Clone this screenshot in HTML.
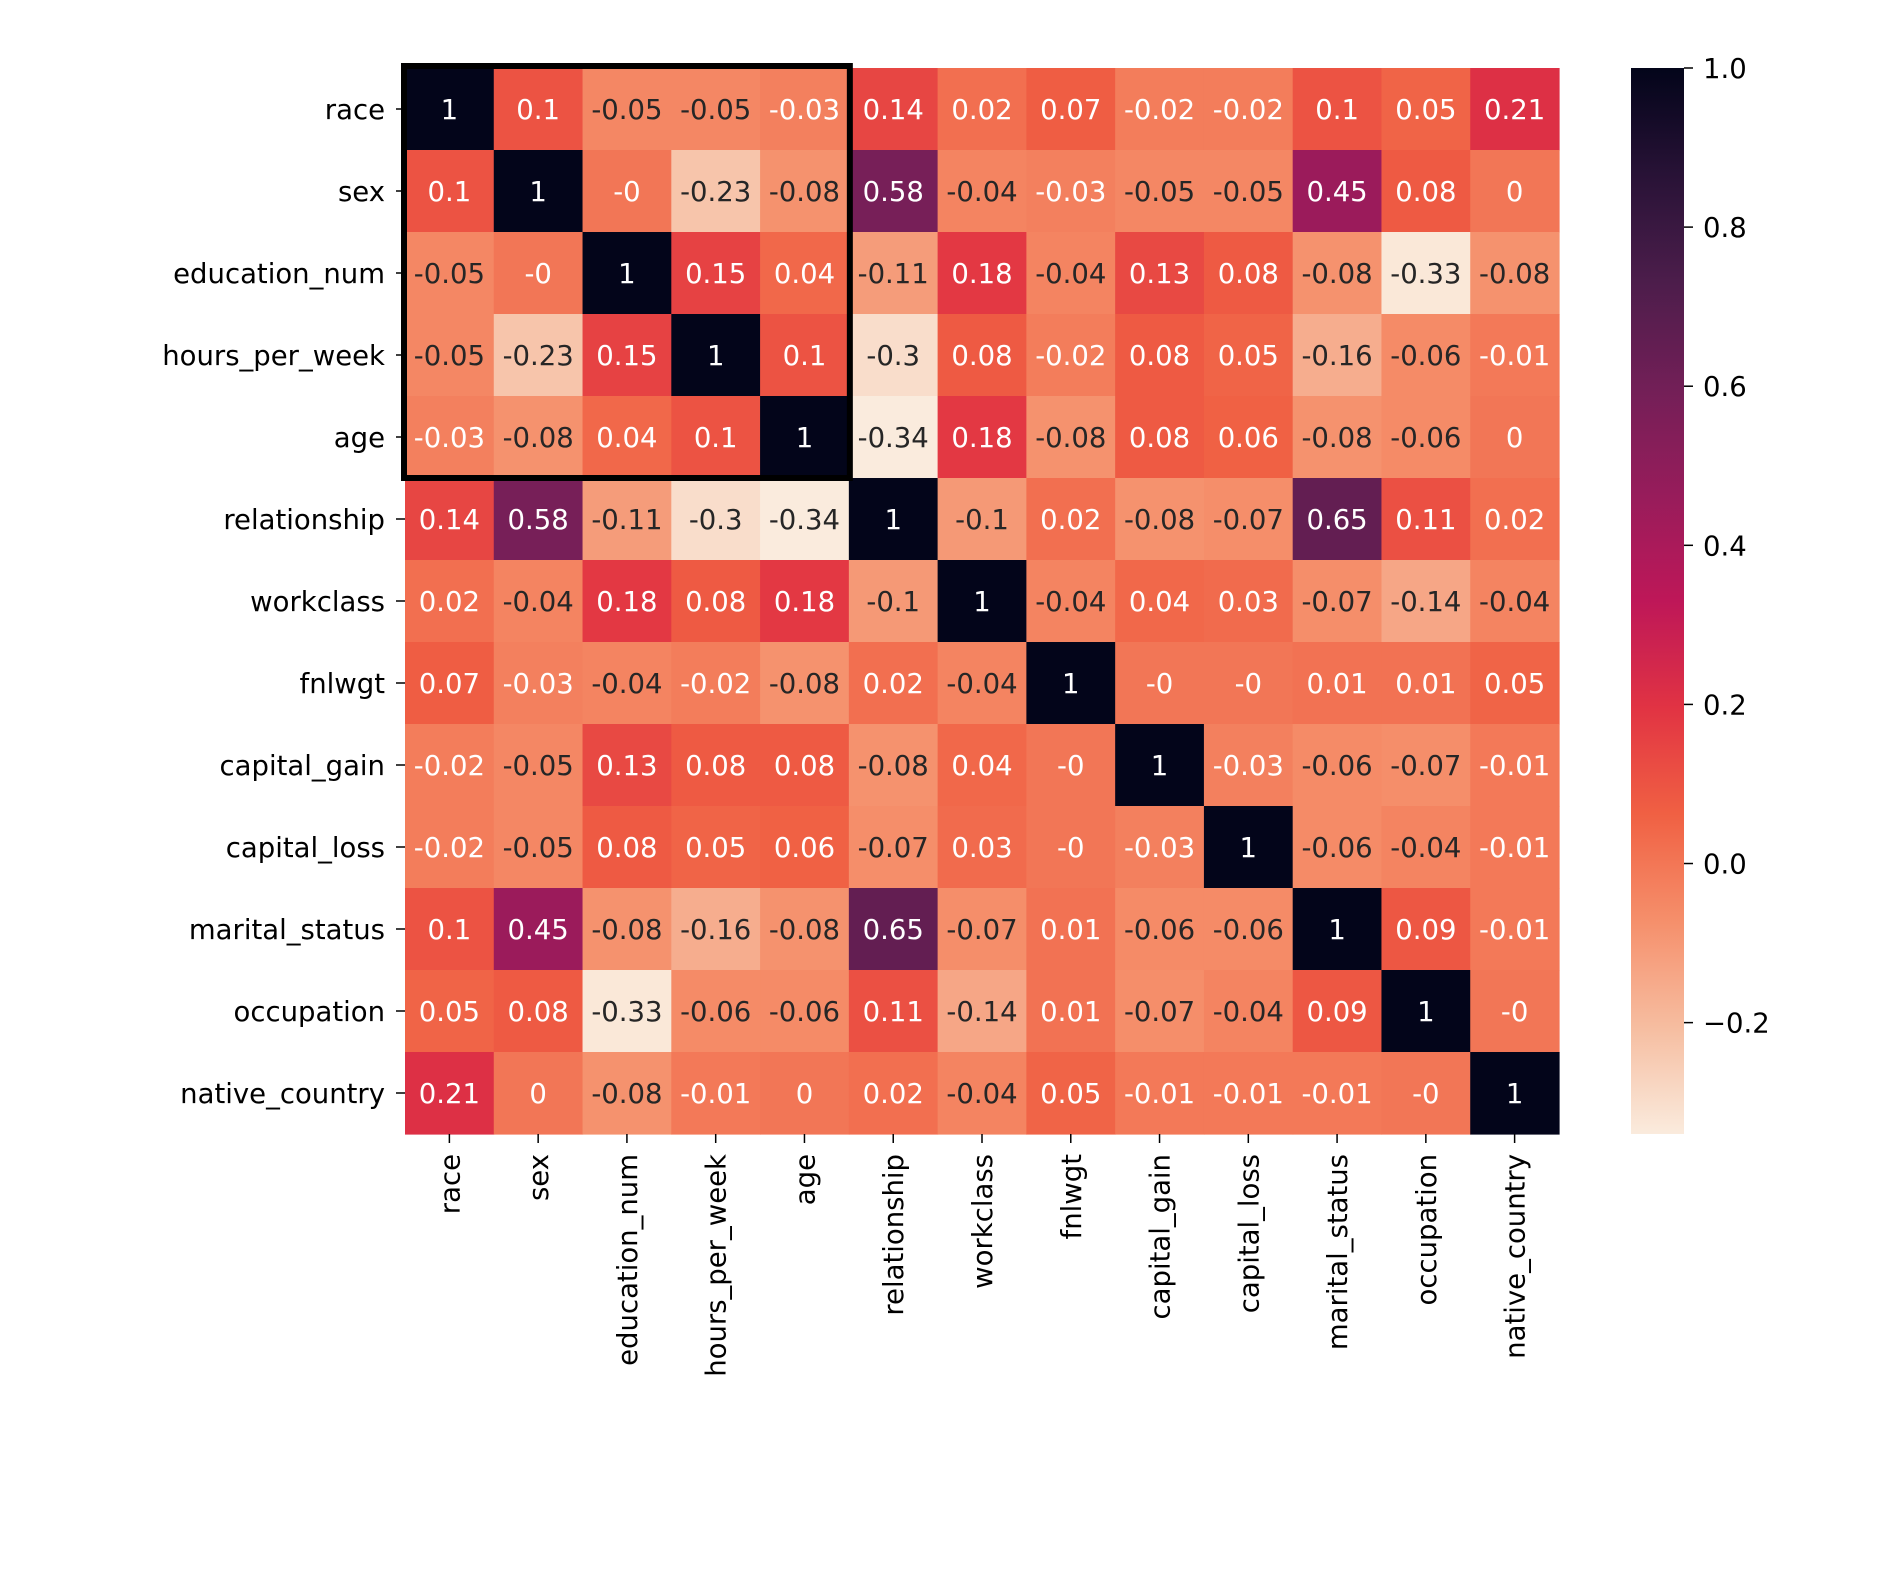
<!DOCTYPE html>
<html><head><meta charset="utf-8"><style>
html,body{margin:0;padding:0;background:#fff;}
svg{display:block;font-family:"DejaVu Sans","Liberation Sans",sans-serif;}
</style></head><body>
<svg id="chart" width="1892" height="1588" viewBox="0 0 1892 1588" xmlns="http://www.w3.org/2000/svg">
<rect width="1892" height="1588" fill="#fff"/>
<g id="cells"></g>
<g id="ylabels"></g>
<g id="xlabels"></g>
<g id="cbar"></g>
</svg>
<script>
const categories = ["race","sex","education_num","hours_per_week","age","relationship","workclass","fnlwgt","capital_gain","capital_loss","marital_status","occupation","native_country"];
const row0 = [1,0.1,-0.05,-0.05,-0.03,0.14,0.02,0.07,-0.02,-0.02,0.1,0.05,0.21];
const row1 = [0.1,1,-0,-0.23,-0.08,0.58,-0.04,-0.03,-0.05,-0.05,0.45,0.08,0];
const row2 = [-0.05,-0,1,0.15,0.04,-0.11,0.18,-0.04,0.13,0.08,-0.08,-0.33,-0.08];
const row3 = [-0.05,-0.23,0.15,1,0.1,-0.3,0.08,-0.02,0.08,0.05,-0.16,-0.06,-0.01];
const row4 = [-0.03,-0.08,0.04,0.1,1,-0.34,0.18,-0.08,0.08,0.06,-0.08,-0.06,0];
const row5 = [0.14,0.58,-0.11,-0.3,-0.34,1,-0.1,0.02,-0.08,-0.07,0.65,0.11,0.02];
const row6 = [0.02,-0.04,0.18,0.08,0.18,-0.1,1,-0.04,0.04,0.03,-0.07,-0.14,-0.04];
const row7 = [0.07,-0.03,-0.04,-0.02,-0.08,0.02,-0.04,1,-0,-0,0.01,0.01,0.05];
const row8 = [-0.02,-0.05,0.13,0.08,0.08,-0.08,0.04,-0,1,-0.03,-0.06,-0.07,-0.01];
const row9 = [-0.02,-0.05,0.08,0.05,0.06,-0.07,0.03,-0,-0.03,1,-0.06,-0.04,-0.01];
const row10 = [0.1,0.45,-0.08,-0.16,-0.08,0.65,-0.07,0.01,-0.06,-0.06,1,0.09,-0.01];
const row11 = [0.05,0.08,-0.33,-0.06,-0.06,0.11,-0.14,0.01,-0.07,-0.04,0.09,1,-0];
const row12 = [0.21,0,-0.08,-0.01,0,0.02,-0.04,0.05,-0.01,-0.01,-0.01,-0,1];
const matrix = [row0,row1,row2,row3,row4,row5,row6,row7,row8,row9,row10,row11,row12];
const cbarTicks = [1.0,0.8,0.6,0.4,0.2,0.0,-0.2];
const vmin = -0.34, vmax = 1.0;

const NS="http://www.w3.org/2000/svg";
const L=405, T=68, W=1154, H=1066;
const n=categories.length, cw=W/n, ch=H/n;
const xPos=i=>L+i*cw, yPos=i=>T+i*ch;
const stops=[[3,5,26],[40,18,54],[76,29,75],[114,31,87],[151,28,91],[190,23,88],[225,51,67],[240,96,67],[245,143,107],[246,189,160],[250,235,221]];
function color(v){
  let t=(vmax-v)/(vmax-vmin); t=Math.max(0,Math.min(1,t))*10;
  const i=Math.min(9,Math.floor(t)), f=t-i, a=stops[i], b=stops[i+1];
  return `rgb(${a.map((c,k)=>Math.round(c+(b[k]-c)*f)).join(",")})`;
}
function mk(tag,attrs,parent,text){const e=document.createElementNS(NS,tag);for(const k in attrs)e.setAttribute(k,attrs[k]);if(text!==undefined)e.textContent=text;parent.appendChild(e);return e;}
function fmt(v){return Object.is(v,-0)?"-0":String(v);}
const FS=27.5;

const cells=document.getElementById("cells");
matrix.forEach((row,r)=>row.forEach((v,c)=>{
  const rect=mk("rect",{x:xPos(c),y:yPos(r),width:cw+0.6,height:ch+0.6,fill:color(v)},cells);
  
  
  const dark = v>0.3 || v===1;
  const txt=mk("text",{x:xPos(c)+cw/2,y:yPos(r)+ch/2+10,"text-anchor":"middle","font-size":FS,fill:(v< -0.035 && !dark)?"#262626":"#ffffff"},cells,fmt(v));
  
  
}));
const box=mk("rect",{x:xPos(0)-1,y:yPos(0)-2,width:cw*5+2,height:ch*5+2,fill:"none",stroke:"#000","stroke-width":"6"},cells);



const yl=document.getElementById("ylabels"), xl=document.getElementById("xlabels");
categories.forEach((name,i)=>{
  const cy=yPos(i)+ch/2;
  mk("line",{x1:L-9,x2:L,y1:cy,y2:cy,stroke:"#000","stroke-width":"1.5"},yl);
  const t=mk("text",{x:L-20,y:cy+10,"text-anchor":"end","font-size":FS,fill:"#000"},yl,name);
  
  
  const cx=xPos(i)+cw/2;
  mk("line",{x1:cx,x2:cx,y1:T+H,y2:T+H+9,stroke:"#000","stroke-width":"1.5"},xl);
  const tx=mk("text",{x:0,y:0,"text-anchor":"end","font-size":FS,fill:"#000",transform:`translate(${cx+10},${T+H+20}) rotate(-90)`},xl,name);
  
  
});

const cb=document.getElementById("cbar");
const CL=1631, CW=53;
const defs=mk("defs",{},cb);
const g=mk("linearGradient",{id:"grad",x1:"0",y1:"0",x2:"0",y2:"1"},defs);
for(let k=0;k<=20;k++){const v=vmax-(vmax-vmin)*k/20;mk("stop",{offset:(k/20),"stop-color":color(v)},g);}
const cbr=mk("rect",{x:CL,y:T,width:CW,height:H,fill:"url(#grad)"},cb);


const cy=v=>T+(vmax-v)/(vmax-vmin)*H;
cbarTicks.forEach(v=>{
  mk("line",{x1:CL+CW,x2:CL+CW+9,y1:cy(v),y2:cy(v),stroke:"#000","stroke-width":"1.5"},cb);
  const t=mk("text",{x:CL+CW+19,y:cy(v)+10,"font-size":FS,fill:"#000"},cb,(v<0?"\u2212":"")+Math.abs(v).toFixed(1));
  
  
});
</script>
</body></html>
